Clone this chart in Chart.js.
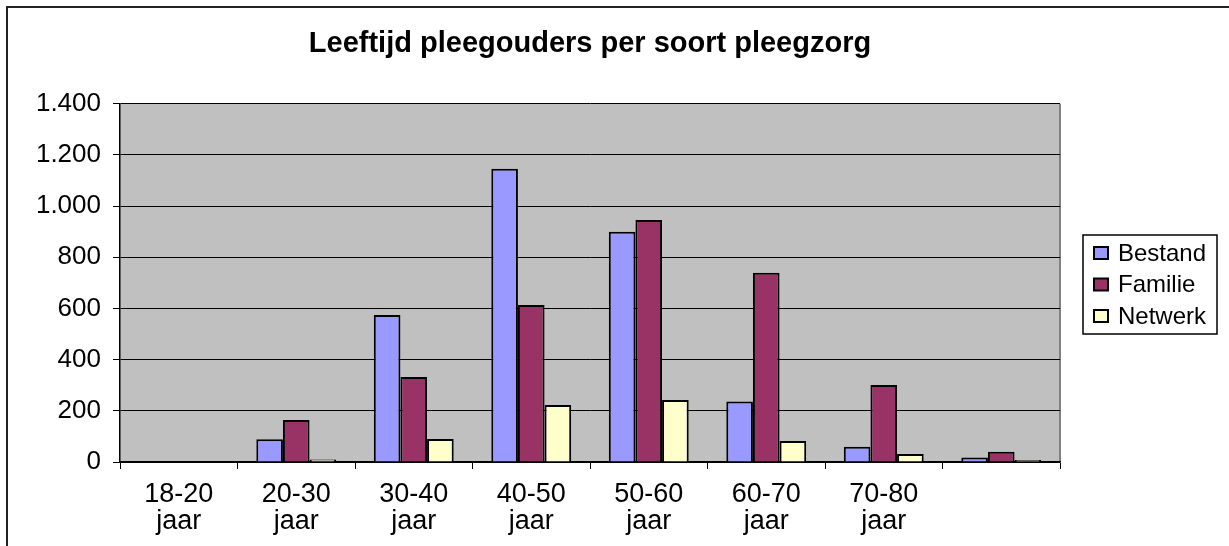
<!DOCTYPE html>
<html>
<head>
<meta charset="utf-8">
<script src="https://cdn.jsdelivr.net/npm/chart.js@4/dist/chart.umd.min.js"></script>
<style>
  html, body { margin: 0; padding: 0; background: #fff; }
  #wrap { position: relative; width: 1229px; height: 546px; }
</style>
</head>
<body>
<div id="wrap"><canvas id="chart" width="1229" height="546"></canvas></div>
<script>
const CATEGORIES = [
  ['18-20', 'jaar'], ['20-30', 'jaar'], ['30-40', 'jaar'], ['40-50', 'jaar'],
  ['50-60', 'jaar'], ['60-70', 'jaar'], ['70-80', 'jaar'], ''
];
const BESTAND = [0, 89, 575, 1146, 900, 236, 60, 18];
const FAMILIE = [0, 164, 332, 614, 946, 740, 301, 40];
const NETWERK = [0, 10, 90, 223, 242, 82, 31, 8];
const SERIES_NAMES = ['Bestand', 'Familie', 'Netwerk'];
const SERIES_COLORS = ['#9999FF', '#993366', '#FFFFCC'];
const Y_TICKS = [0, 200, 400, 600, 800, 1000, 1200, 1400];

const FONT = '"Liberation Sans", Arial, sans-serif';

function nlNumber(v) {
  return String(v).replace(/\B(?=(\d{3})+(?!\d))/g, '.');
}

// frame, grey plot area and the boxed legend
const excelLook = {
  id: 'excelLook',
  beforeDraw(chart) {
    const { ctx, chartArea: a } = chart;
    ctx.save();
    ctx.fillStyle = '#fff';
    ctx.fillRect(0, 0, chart.width, chart.height);
    ctx.strokeStyle = '#222';
    ctx.lineWidth = 2;
    ctx.strokeRect(7, 7, chart.width + 20, chart.height + 20);
    ctx.fillStyle = '#C0C0C0';
    ctx.fillRect(a.left, a.top, a.right - a.left, a.bottom - a.top);
    ctx.strokeStyle = '#808080';
    ctx.lineWidth = 2;
    ctx.beginPath();
    ctx.moveTo(a.right, a.top);
    ctx.lineTo(a.right, a.bottom);
    ctx.stroke();
    ctx.restore();
  },
  afterDraw(chart) {
    const { ctx } = chart;
    const box = { x: 1083, y: 235, w: 134, h: 99 };
    ctx.save();
    ctx.strokeStyle = '#000';
    ctx.lineWidth = 1.5;
    ctx.strokeRect(box.x, box.y, box.w, box.h);
    ctx.font = '24px ' + FONT;
    ctx.textBaseline = 'middle';
    chart.data.datasets.forEach((ds, i) => {
      const cy = 253 + i * 31.5;
      ctx.fillStyle = ds.backgroundColor;
      ctx.fillRect(1094, cy - 6, 14, 12);
      ctx.strokeStyle = '#000';
      ctx.lineWidth = 2;
      ctx.strokeRect(1094, cy - 6, 14, 12);
      ctx.fillStyle = '#000';
      ctx.fillText(ds.label, 1118, cy + 1);
    });
    ctx.restore();
  }
};

const seriesData = [BESTAND, FAMILIE, NETWERK];

new Chart(document.getElementById('chart').getContext('2d'), {
  type: 'bar',
  data: {
    labels: CATEGORIES,
    datasets: SERIES_NAMES.map((name, i) => ({
      label: name,
      data: seriesData[i],
      backgroundColor: SERIES_COLORS[i],
      borderColor: '#000',
      borderWidth: 2,
      categoryPercentage: 0.68,
      barPercentage: 1.0
    }))
  },
  options: {
    responsive: false,
    animation: false,
    layout: { padding: { left: 0, right: 169, top: 0, bottom: 0 } },
    plugins: {
      legend: { display: false },
      tooltip: { enabled: false },
      title: {
        display: true,
        text: 'Leeftijd pleegouders per soort pleegzorg',
        color: '#000',
        fullSize: false,
        font: { family: FONT, size: 29, weight: 'bold', lineHeight: 1.2 },
        padding: { top: 27, bottom: 42 }
      }
    },
    scales: {
      x: {
        afterFit: (s) => { s.height = 84; },
        grid: { offset: true, drawOnChartArea: false, drawTicks: true, tickLength: 7, color: '#000', lineWidth: 1 },
        border: { color: '#000', width: 1.5 },
        ticks: {
          color: '#000',
          padding: 12,
          maxRotation: 0,
          autoSkip: false,
          font: { family: FONT, size: 27, lineHeight: 1.0 }
        }
      },
      y: {
        min: Y_TICKS[0],
        max: Y_TICKS[Y_TICKS.length - 1],
        afterFit: (s) => { s.width = 120; },
        afterBuildTicks: (s) => { s.ticks = Y_TICKS.map(v => ({ value: v })); },
        grid: { color: '#000', lineWidth: 1, tickLength: 7 },
        border: { color: '#000', width: 1.5 },
        ticks: {
          color: '#000',
          padding: 12,
          font: { family: FONT, size: 26 },
          callback: (v) => nlNumber(v)
        }
      }
    }
  },
  plugins: [excelLook]
});
</script>
</body>
</html>
